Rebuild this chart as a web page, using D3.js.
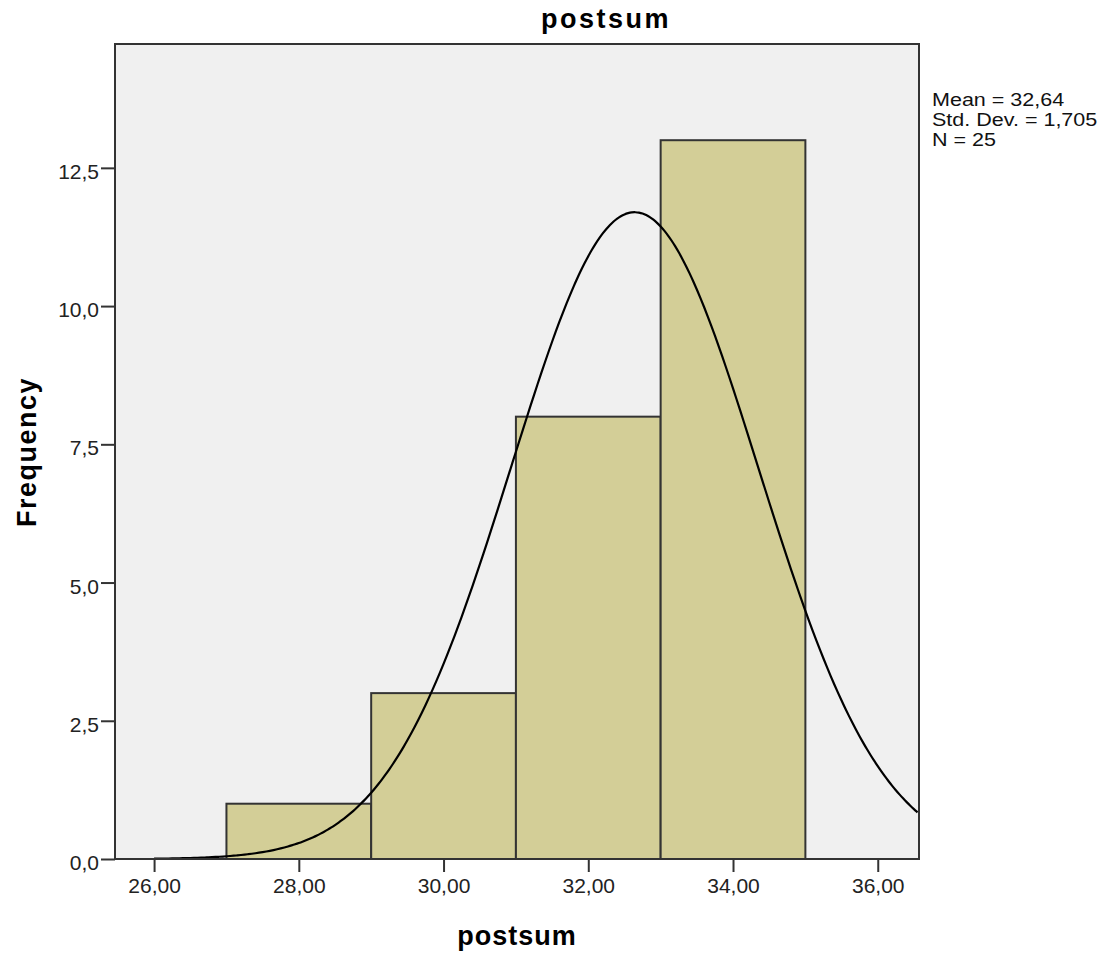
<!DOCTYPE html>
<html>
<head>
<meta charset="utf-8">
<script src="https://cdn.jsdelivr.net/npm/d3@7"></script>
<style>
  html, body { margin: 0; padding: 0; background: #fff; }
  svg { display: block; }
  text { font-family: "Liberation Sans", Arial, sans-serif; }
</style>
</head>
<body>
<svg id="chart" width="1108" height="954"></svg>
<script>
// ---- data ----
const binStarts = [27, 29, 31, 33];
const binEnds = [29, 31, 33, 35];
const counts = [1, 3, 8, 13];
const xTicks = [26, 28, 30, 32, 34, 36];
const yTicks = [0, 2.5, 5, 7.5, 10, 12.5];
const statLines = ["Mean = 32,64", "Std. Dev. = 1,705", "N = 25"];
const meanVal = 32.64;
const sdVal = 1.705;
const nVal = 25;
const binWidth = 2;
const titleText = "postsum";
const xTitle = "postsum";
const yTitle = "Frequency";

// ---- layout ----
const plot = { left: 115, top: 44, right: 919, bottom: 859 };
const svg = d3.select("#chart");

const x = d3.scaleLinear().domain([25.46, 36.57]).range([plot.left, plot.right]);
const y = d3.scaleLinear().domain([0, 14.74]).range([plot.bottom, plot.top]);

const fmtX = v => d3.format(".2f")(v).replace(".", ",");
const fmtY = v => d3.format(".1f")(v).replace(".", ",");

// background
svg.append("rect")
  .attr("x", plot.left).attr("y", plot.top)
  .attr("width", plot.right - plot.left).attr("height", plot.bottom - plot.top)
  .attr("fill", "#f0f0f0");

// bars
const bins = binStarts.map((s, i) => ({ x0: s, x1: binEnds[i], n: counts[i] }));
svg.append("g").selectAll("rect").data(bins).join("rect")
  .attr("x", d => x(d.x0))
  .attr("y", d => y(d.n))
  .attr("width", d => x(d.x1) - x(d.x0))
  .attr("height", d => y(0) - y(d.n))
  .attr("fill", "#d3ce97")
  .attr("stroke", "#333")
  .attr("stroke-width", 2);

// normal curve from stated mean / sd / N
const pdf = v => nVal * binWidth * Math.exp(-0.5 * Math.pow((v - meanVal) / sdVal, 2)) / (sdVal * Math.sqrt(2 * Math.PI));
const curveX = d3.range(26, 36.57 + 1e-9, 0.05);
svg.append("path")
  .datum(curveX)
  .attr("fill", "none")
  .attr("stroke", "#000")
  .attr("stroke-width", 2.2)
  .attr("d", d3.line().x(d => x(d)).y(d => y(pdf(d))).curve(d3.curveBasis));

// frame
svg.append("rect")
  .attr("x", plot.left).attr("y", plot.top)
  .attr("width", plot.right - plot.left).attr("height", plot.bottom - plot.top)
  .attr("fill", "none")
  .attr("stroke", "#333")
  .attr("stroke-width", 2);

// axes
const xAxis = d3.axisBottom(x).tickValues(xTicks).tickFormat(fmtX).tickSize(13).tickPadding(6);
const gx = svg.append("g").attr("transform", `translate(0,${plot.bottom})`).call(xAxis);
gx.select(".domain").remove();
gx.selectAll("line").attr("stroke", "#333").attr("stroke-width", 2);
gx.selectAll("text").attr("font-size", 21).attr("fill", "#222")
  .attr("font-family", "'Liberation Sans', Arial, sans-serif");

const yAxis = d3.axisLeft(y).tickValues(yTicks).tickFormat(fmtY).tickSize(14).tickPadding(2);
const gy = svg.append("g").attr("transform", `translate(${plot.left},0)`).call(yAxis);
gy.select(".domain").remove();
gy.selectAll("line").attr("stroke", "#333").attr("stroke-width", 2);
gy.selectAll("text").attr("font-size", 21).attr("fill", "#222")
  .attr("font-family", "'Liberation Sans', Arial, sans-serif")
  .attr("dy", "0.5em");

// titles
svg.append("text")
  .attr("x", 606).attr("y", 28)
  .attr("text-anchor", "middle")
  .attr("font-size", 27).attr("font-weight", "bold").attr("letter-spacing", 2.5)
  .attr("fill", "#000")
  .text(titleText);

svg.append("text")
  .attr("x", 517).attr("y", 945)
  .attr("text-anchor", "middle")
  .attr("font-size", 27).attr("font-weight", "bold").attr("letter-spacing", 1)
  .attr("fill", "#000")
  .text(xTitle);

svg.append("text")
  .attr("transform", "translate(36,452) rotate(-90)")
  .attr("text-anchor", "middle")
  .attr("font-size", 27).attr("font-weight", "bold").attr("letter-spacing", 1.5)
  .attr("fill", "#000")
  .text(yTitle);

// stats
svg.append("g")
  .attr("transform", "translate(932,0) scale(1.23,1)")
  .selectAll("text").data(statLines).join("text")
  .attr("x", 0)
  .attr("y", (d, i) => 106 + i * 20)
  .attr("font-size", 17.5)
  .attr("fill", "#111")
  .text(d => d);
</script>
</body>
</html>
